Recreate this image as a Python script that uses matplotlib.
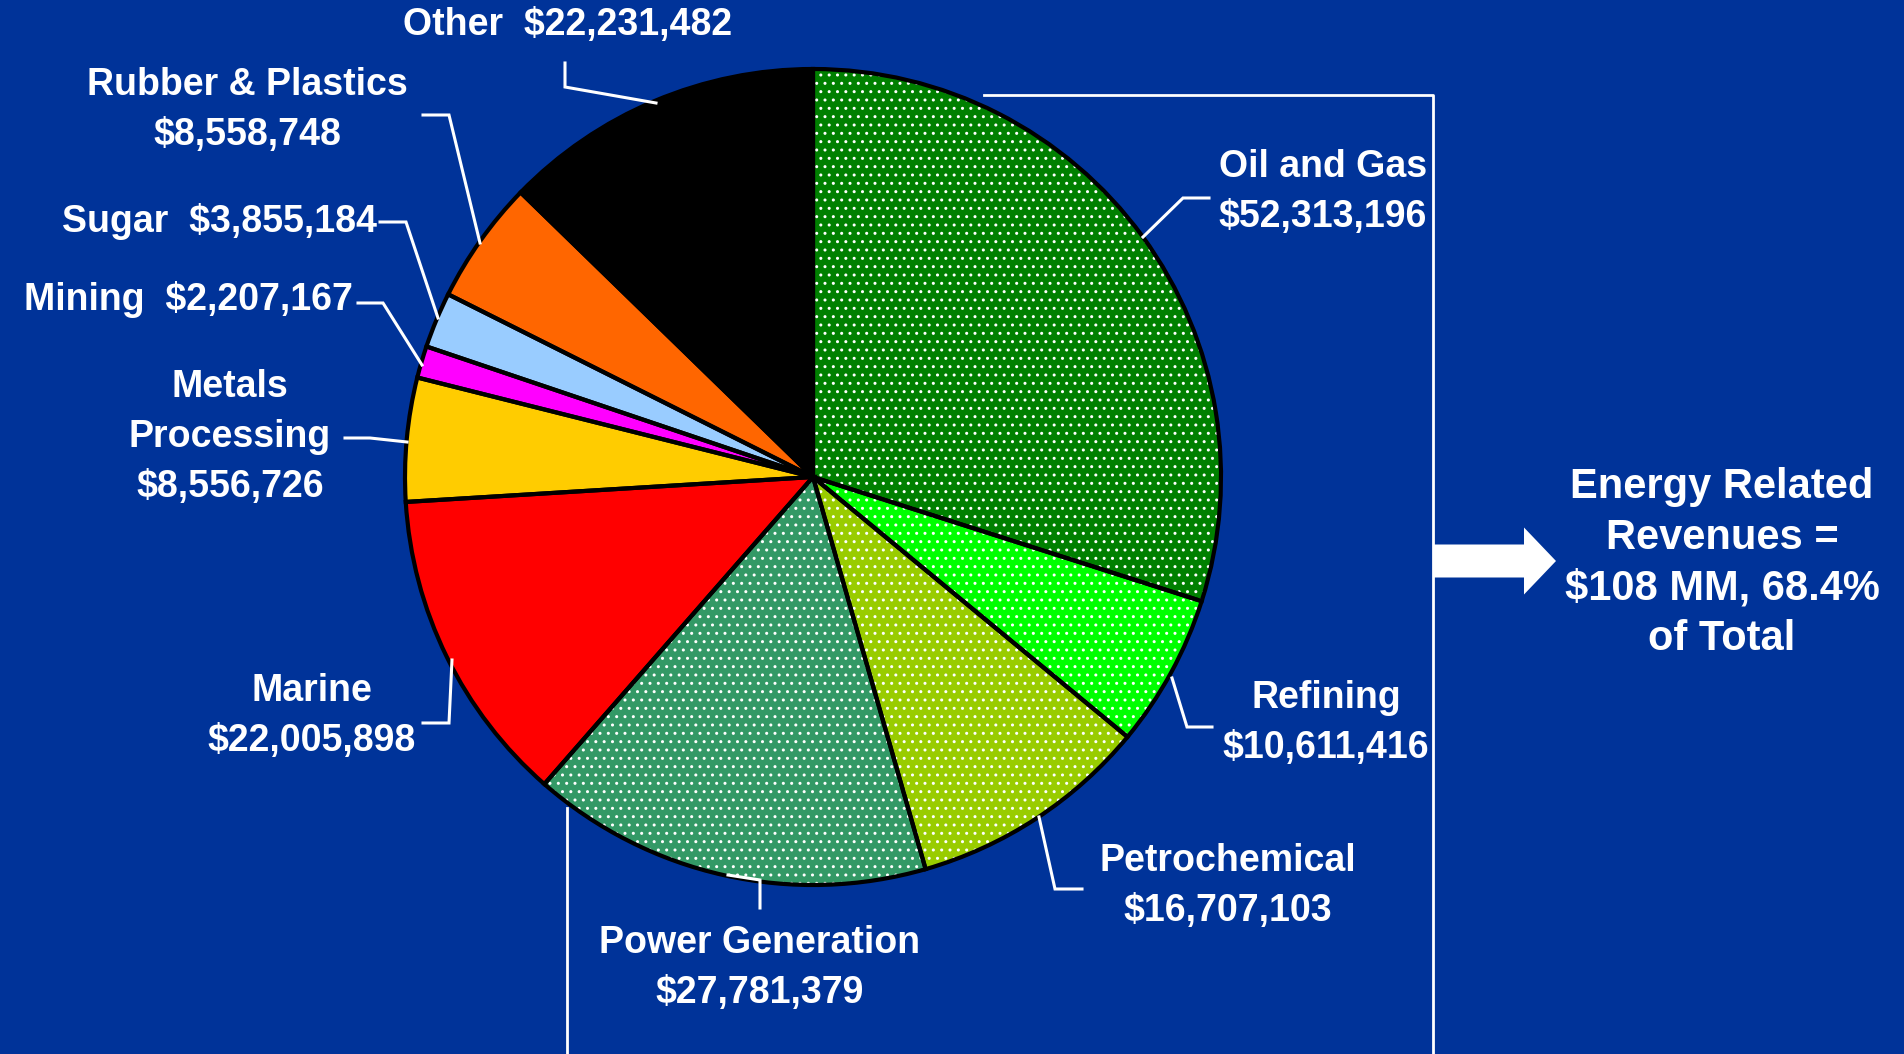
import matplotlib.pyplot as plt
from matplotlib.patches import FancyArrow

# revenue by market segment
segments = ['Oil and Gas', 'Refining', 'Petrochemical', 'Power Generation',
            'Marine', 'Metals\nProcessing', 'Mining', 'Sugar',
            'Rubber & Plastics', 'Other']
revenues = [52313196, 10611416, 16707103, 27781379, 22005898,
            8556726, 2207167, 3855184, 8558748, 22231482]
colors = ['#008000', '#00FF00', '#99CC00', '#339966', '#FF0000',
          '#FFCC00', '#FF00FF', '#99CCFF', '#FF6600', '#000000']
energy = [True, True, True, True, False, False, False, False, False, False]
summary = 'Energy Related\nRevenues =\n$108 MM, 68.4%\nof Total'

W, H = 1904, 1054
BG = '#003399'
plt.rcParams['font.family'] = ['Liberation Sans', 'DejaVu Sans']
plt.rcParams['font.weight'] = 'bold'


def Y(y):
    # pixel row (from top) -> data y
    return H - y


fig = plt.figure(figsize=(W / 100, H / 100), dpi=100, facecolor=BG)
ax = fig.add_axes([0, 0, 1, 1])
ax.set_facecolor(BG)

cx, cy, r = 813, Y(477), 408
hatches = ['..' if e else None for e in energy]

# filled wedges with white dotted texture on the energy segments
ax.pie(revenues, colors=colors, startangle=90, counterclock=False,
       center=(cx, cy), radius=r, hatch=hatches, frame=False,
       wedgeprops=dict(edgecolor='white', linewidth=0))
# black outlines on top
ax.pie(revenues, startangle=90, counterclock=False, center=(cx, cy),
       radius=r, frame=False,
       wedgeprops=dict(fill=False, edgecolor='black', linewidth=3))

ax.set_xlim(0, W)
ax.set_ylim(0, H)
ax.set_aspect('auto')
ax.axis('off')

# label blocks: (x, y, ha) and leader lines in pixel rows
label_pos = {
    'Oil and Gas': (1323, 192, 'center'),
    'Refining': (1326, 723, 'center'),
    'Petrochemical': (1228, 886, 'center'),
    'Power Generation': (760, 968, 'center'),
    'Marine': (312, 716, 'center'),
    'Metals\nProcessing': (230, 437, 'center'),
    'Mining': (353, 300, 'right'),
    'Sugar': (377, 222, 'right'),
    'Rubber & Plastics': (247, 110, 'center'),
    'Other': (568, 25, 'center'),
}
one_line = ['Mining', 'Sugar', 'Other']
leaders = {
    'Oil and Gas': [(1143, 237), (1183, 198), (1209, 198)],
    'Refining': [(1172, 678), (1187, 727), (1212, 727)],
    'Petrochemical': [(1039, 817), (1055, 889), (1082, 889)],
    'Power Generation': [(728, 875), (760, 880), (760, 908)],
    'Marine': [(452, 660), (449, 723), (423, 723)],
    'Metals\nProcessing': [(407, 442), (370, 438), (345, 438)],
    'Mining': [(422, 365), (383, 303), (358, 303)],
    'Sugar': [(438, 318), (406, 222), (380, 222)],
    'Rubber & Plastics': [(480, 243), (449, 115), (423, 115)],
    'Other': [(656, 103), (565, 87), (565, 63)],
}

for name, val in zip(segments, revenues):
    x, y, ha = label_pos[name]
    sep = '  ' if name in one_line else '\n'
    ax.text(x, Y(y), f'{name}{sep}${val:,}', ha=ha, va='center',
            multialignment='center', color='white', fontsize=27,
            fontweight='bold', linespacing=1.5)
    pts = leaders[name]
    ax.plot([p[0] for p in pts], [Y(p[1]) for p in pts], color='white',
            lw=2.2, solid_joinstyle='miter', zorder=3)

# bracket around the energy segments
ax.plot([984, 1433, 1433], [Y(95), Y(95), Y(H)], color='white', lw=2,
        zorder=0)
ax.plot([567, 567], [Y(808), Y(H)], color='white', lw=2, zorder=0)
ax.add_patch(FancyArrow(1433, Y(561), 123, 0, width=33, head_width=67,
                        head_length=32, length_includes_head=True,
                        color='white', lw=0))
ax.text(1722, Y(563), summary, ha='center', va='center', color='white',
        fontsize=30, fontweight='bold', linespacing=1.34)

fig.savefig('out.png', dpi=100, facecolor=BG)
